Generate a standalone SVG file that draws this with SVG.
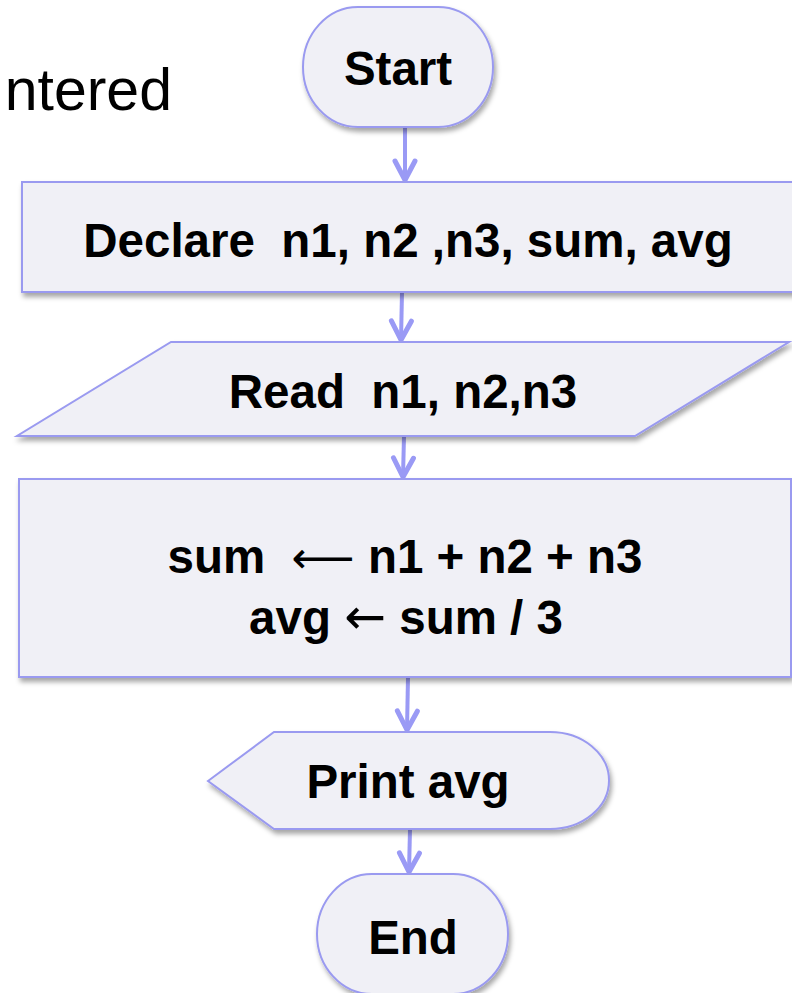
<svg xmlns="http://www.w3.org/2000/svg" width="792" height="993" viewBox="0 0 792 993">
<style>
.shape{fill:#f0f0f6;stroke:#9a9af0;stroke-width:2;filter:url(#sh)}
.lbl{font-family:"Liberation Sans",Arial,sans-serif;font-weight:bold;font-size:47.5px;fill:#000;text-anchor:middle}
.arr{font-family:"DejaVu Sans",sans-serif;font-weight:normal}
.conn{stroke:#9a9af5;stroke-width:4;fill:none;marker-end:url(#ah)}
</style>
<defs>
<filter id="sh" x="-10%" y="-10%" width="130%" height="140%">
<feDropShadow dx="2" dy="4" stdDeviation="2.5" flood-color="#000" flood-opacity="0.35"/>
</filter>
<marker id="ah" markerUnits="userSpaceOnUse" viewBox="-24 -14 28 28" markerWidth="28" markerHeight="28" refX="0" refY="0" orient="auto">
<path d="M-19,-10 L0,0 L-19,10" fill="none" stroke="#9a9af5" stroke-width="5" stroke-linecap="round" stroke-linejoin="round"/>
</marker>
</defs>
<rect width="792" height="993" fill="#fff"/>
<text x="172" y="110" font-family="Liberation Sans,Arial,sans-serif" font-size="59" text-anchor="end" fill="#000">ntered</text>
<g id="connectors">
<path class="conn" d="M405,127 L405,180"/>
<path class="conn" d="M402,292 L401,340"/>
<path class="conn" d="M404,436 L403,477"/>
<path class="conn" d="M408,677 L407,730"/>
<path class="conn" d="M410,829 L409,872"/>
</g>
<g id="start">
<rect class="shape" x="303" y="7" width="190" height="120" rx="55" ry="60"/>
<text class="lbl" x="398" y="85">Start</text>
</g>
<g id="declare">
<rect class="shape" x="22" y="182" width="790" height="110"/>
<text class="lbl" x="408" y="257" xml:space="preserve">Declare  n1, n2 ,n3, sum, avg</text>
</g>
<g id="read">
<polygon class="shape" points="171,342 789,342 635,436 17,436"/>
<text class="lbl" x="403" y="408" xml:space="preserve">Read  n1, n2,n3</text>
</g>
<g id="process">
<rect class="shape" x="19" y="479" width="772" height="198"/>
<text class="lbl" x="405" y="573" xml:space="preserve">sum  <tspan class="arr" font-size="44">⟵</tspan> n1 + n2 + n3</text>
<text class="lbl" x="406" y="634">avg <tspan class="arr" font-size="50">←</tspan> sum / 3</text>
</g>
<g id="print">
<path class="shape" d="M208,781 L274,732 L550,732 A59,48.5 0 0 1 550,829 L274,829 Z"/>
<text class="lbl" x="408" y="798">Print avg</text>
</g>
<g id="end">
<rect class="shape" x="317" y="874" width="191" height="120" rx="55" ry="60"/>
<text class="lbl" x="413" y="954">End</text>
</g>
</svg>
